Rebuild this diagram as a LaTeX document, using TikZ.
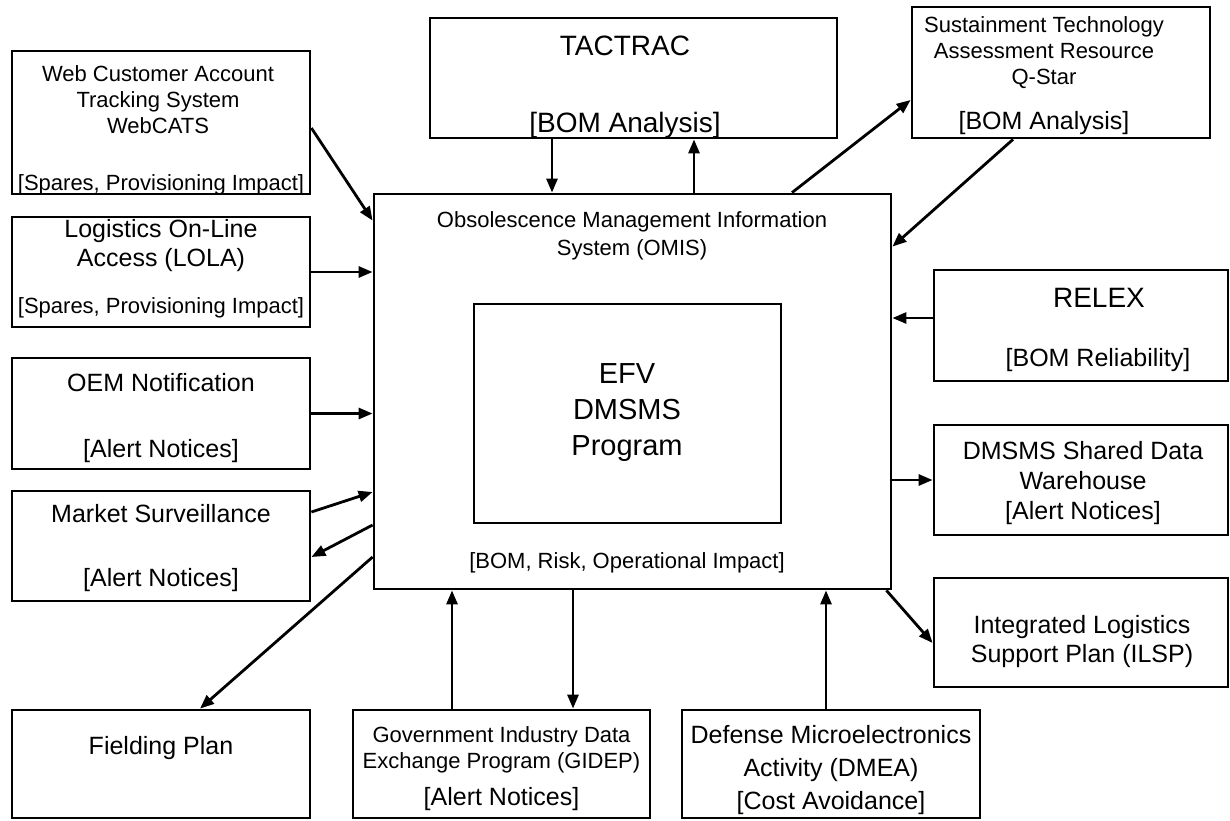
\documentclass[tikz,border=0pt]{standalone}
\usepackage{fontspec}
\setmainfont{Liberation Sans}
\usepackage{tikz}
\usetikzlibrary{arrows.meta, positioning, calc}

\begin{document}
\begin{tikzpicture}[x=1pt, y=-1pt,
    hop/.style={draw, line width=2.8pt, inner sep=0pt},
    chu/.style={anchor=base, align=center, inner sep=0pt},
    chu22/.style={chu, font=\fontsize{22}{26}\selectfont},
    chu25/.style={chu, font=\fontsize{25}{29}\selectfont},
    chu28/.style={chu, font=\fontsize{28}{32}\selectfont},
    chu29/.style={chu, font=\fontsize{29}{36}\selectfont},
    muiten/.style={line width=2.8pt, -{Triangle[length=14pt,width=11pt]}}]

    % Khung hình
    \useasboundingbox (0,0) rectangle (1230,820);

    % Hộp trung tâm OMIS
    \node[hop, minimum width=517pt, minimum height=395pt] (main) at (632.5,391.5) {}; % Hộp lớn
    \node[hop, minimum width=307pt, minimum height=219pt] (efv) at (627.5,413.5) {}; % Hộp trong
    \node[chu22] (mainT) at (632,255) {Obsolescence Management Information\\[2pt] System (OMIS)};
    \node[chu29] (efvT) at (627,455) {EFV\\DMSMS\\Program};
    \node[chu22] (mainB) at (627,568) {[BOM, Risk, Operational Impact]};

    % Các hộp bên trái
    \node[hop, minimum width=298pt, minimum height=143pt] (web) at (161,122.5) {};
    \node[chu22] (webT) at (158,133) {Web Customer Account\\Tracking System\\WebCATS};
    \node[chu22] (webB) at (161,190) {[Spares, Provisioning Impact]};

    \node[hop, minimum width=298pt, minimum height=110pt] (lola) at (161,272) {};
    \node[chu25] (lolaT) at (161,266) {Logistics On-Line\\Access (LOLA)};
    \node[chu22] (lolaB) at (161,313) {[Spares, Provisioning Impact]};

    \node[hop, minimum width=298pt, minimum height=111pt] (oem) at (161,413.5) {};
    \node[chu25] (oemT) at (161,391) {OEM Notification};
    \node[chu25] (oemB) at (161,457) {[Alert Notices]};

    \node[hop, minimum width=298pt, minimum height=110pt] (market) at (161,546) {};
    \node[chu25] (marketT) at (161,522) {Market Surveillance};
    \node[chu25] (marketB) at (161,586) {[Alert Notices]};

    \node[hop, minimum width=298pt, minimum height=108pt] (field) at (161,764) {};
    \node[chu25] (fieldT) at (161,754) {Fielding Plan};

    % Các hộp phía dưới
    \node[hop, minimum width=297pt, minimum height=108pt] (gidep) at (501.5,764) {};
    \node[chu22] (gidepT) at (501.5,768) {Government Industry Data\\Exchange Program (GIDEP)};
    \node[chu25] (gidepB) at (501.5,805) {[Alert Notices]};

    \node[hop, minimum width=298pt, minimum height=108pt] (dmea) at (831,764) {};
    \node[chu25] (dmeaT) at (831,809) {Defense Microelectronics\\[4pt] Activity (DMEA)\\[4pt] [Cost Avoidance]};

    % Các hộp phía trên
    \node[hop, minimum width=407pt, minimum height=120pt] (tac) at (633.5,78) {};
    \node[chu28] (tacT) at (625,55) {TACTRAC};
    \node[chu28] (tacB) at (625,132) {[BOM Analysis]};

    \node[hop, minimum width=298pt, minimum height=131pt] (qstar) at (1061,72.5) {};
    \node[chu22] (qstarT) at (1044,84) {Sustainment Technology\\Assessment Resource\\Q-Star};
    \node[chu25] (qstarB) at (1044,129) {[BOM Analysis]};

    % Các hộp bên phải
    \node[hop, minimum width=294pt, minimum height=111pt] (relex) at (1081,325.5) {};
    \node[chu28] (relexT) at (1099,307) {RELEX};
    \node[chu25] (relexB) at (1098,366) {[BOM Reliability]};

    \node[hop, minimum width=294pt, minimum height=110pt] (dmsms) at (1081,480) {};
    \node[chu25] (dmsmsT) at (1083,519) {DMSMS Shared Data\\[1pt] Warehouse\\[1pt] [Alert Notices]};

    \node[hop, minimum width=294pt, minimum height=109pt] (ilsp) at (1081,632.5) {};
    \node[chu25] (ilspT) at (1082,662) {Integrated Logistics\\Support Plan (ILSP)};

    % Các mũi tên
    \draw[muiten] ([yshift=-5.5pt]web.east) -- ([yshift=-28pt]main.north west); % WebCATS
    \draw[muiten] (lola.east) -- (lola.east -| main.west); % LOLA
    \draw[muiten] (oem.east) -- (oem.east -| main.west); % OEM
    \draw[muiten] ([yshift=34pt]market.east) -- ([yshift=-100.5pt]main.west); % vào OMIS
    \draw[muiten] ([yshift=-133.5pt]main.west) -- ([yshift=-11pt]market.east); % ra Market
    \draw[muiten] ([yshift=-165.5pt]main.west) -- ([xshift=39pt]field.north); % Fielding Plan
    \draw[muiten] ([xshift=-81.5pt]tac.south) -- ([xshift=-80.5pt]main.north); % TACTRAC xuống
    \draw[muiten] ([xshift=61.5pt]main.north) -- ([xshift=60.5pt]tac.south); % TACTRAC lên
    \draw[muiten] ([xshift=159.5pt]main.north) -- ([yshift=-27.5pt]qstar.west); % tới Q-Star
    \draw[muiten] ([xshift=-48pt]qstar.south) -- ([yshift=-54pt]main.north east); % từ Q-Star
    \draw[muiten] ([yshift=7.5pt]relex.west) -- ([yshift=73.5pt]main.east); % RELEX
    \draw[muiten] (main.east |- dmsms.west) -- (dmsms.west); % Warehouse
    \draw[muiten] ([xshift=-6pt]main.south east) -- ([yshift=-10.5pt]ilsp.west); % ILSP
    \draw[muiten] ([xshift=-49.5pt]gidep.north) -- ([xshift=-180.5pt]main.south); % GIDEP lên
    \draw[muiten] ([xshift=-59.5pt]main.south) -- ([xshift=71.5pt]gidep.north); % GIDEP xuống
    \draw[muiten] ([xshift=-5pt]dmea.north) -- ([xshift=193.5pt]main.south); % DMEA

\end{tikzpicture}
\end{document}
